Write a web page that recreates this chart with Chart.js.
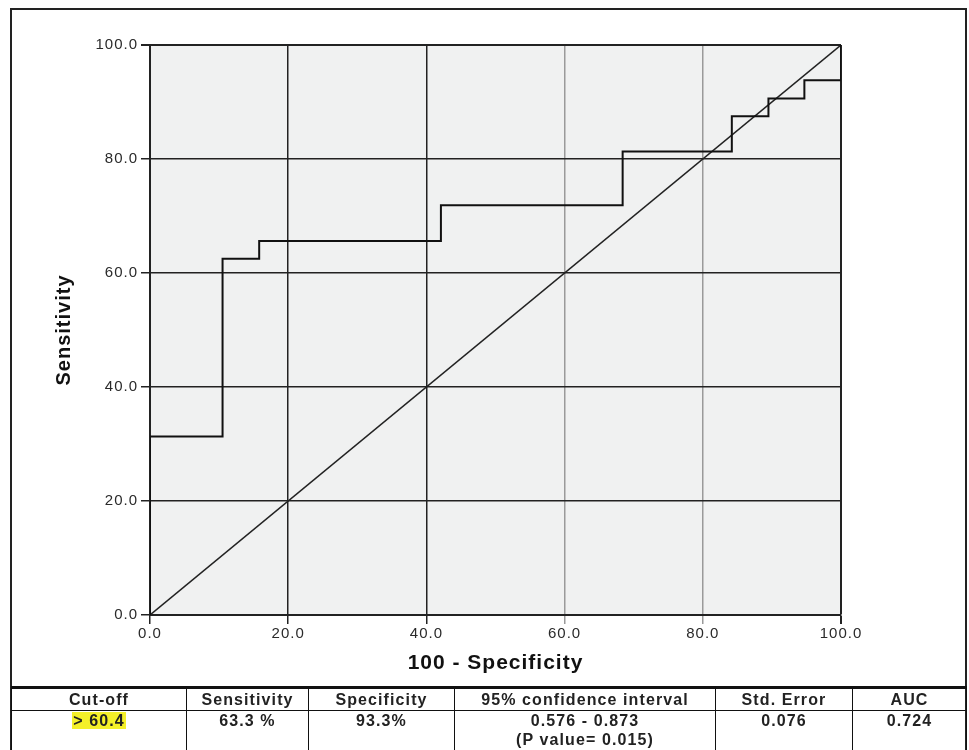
<!DOCTYPE html>
<html>
<head>
<meta charset="utf-8">
<title>ROC curve</title>
<script src="https://cdn.jsdelivr.net/npm/chart.js@4.4.1/dist/chart.umd.min.js"></script>
<style>
  body { margin: 0; background: #fff; }
  #wrap { position: relative; width: 969px; height: 750px; overflow: hidden; background: #fff; }
  #rocChart { position: absolute; left: 0; top: 0; }
  #frame {
    position: absolute; left: 10px; top: 8px; width: 957px; height: 760px;
    border: 2px solid #222; box-sizing: border-box;
  }
  #stats {
    position: absolute; left: 11px; top: 686px; width: 955px;
    border-collapse: collapse; table-layout: fixed;
    font-family: "Liberation Sans", Arial, sans-serif;
    font-weight: bold; font-size: 16px; letter-spacing: 1.1px; color: #222;
  }
  #stats th, #stats td {
    border: 1.5px solid #111; text-align: center; padding: 0; line-height: 19px;
  }
  #stats tr:first-child th { border-top: 3px solid #111; height: 21px; }
  #stats td { vertical-align: top; height: 44px; }
  .hl { background: #f4f02a; padding: 0 1px; }
</style>
</head>
<body>
<div id="wrap">
  <canvas id="rocChart" width="969" height="750"></canvas>
  <div id="frame"></div>
  <table id="stats">
    <colgroup>
      <col style="width:175px"><col style="width:122px"><col style="width:146px">
      <col style="width:261px"><col style="width:137px"><col style="width:114px">
    </colgroup>
    <tr>
      <th>Cut-off</th><th>Sensitivity</th><th>Specificity</th>
      <th>95% confidence interval</th><th>Std. Error</th><th>AUC</th>
    </tr>
    <tr>
      <td><span class="hl">&gt; 60.4</span></td><td>63.3 %</td><td>93.3%</td>
      <td>0.576 - 0.873<br>(P value= 0.015)</td><td>0.076</td><td>0.724</td>
    </tr>
  </table>
</div>

<script>
// ROC operating points (100 - specificity, sensitivity)
const rocFpr = [0, 0, 10.5, 15.8, 42.1, 68.4, 84.2, 89.5, 94.7, 100];
const rocSens = [0, 31.3, 62.5, 65.6, 71.9, 81.3, 87.5, 90.6, 93.8, 100];

// reference (chance) line
const refX = [0, 100];
const refY = [0, 100];

const tickValues = [0, 20, 40, 60, 80, 100];
const lightGridAt = [60, 80];

const tickFont = { family: '"Liberation Sans", Arial, sans-serif', size: 15 };

// grey plot background + wider letter spacing like the original
const plotBackground = {
  id: 'plotBackground',
  beforeDraw(chart) {
    const { ctx, chartArea } = chart;
    ctx.letterSpacing = '1px';
    ctx.save();
    ctx.fillStyle = '#f0f1f1';
    ctx.fillRect(chartArea.left, chartArea.top, chartArea.right - chartArea.left, chartArea.bottom - chartArea.top);
    ctx.restore();
  }
};

function gridColor(ctx) {
  if (!ctx.tick) return '#222';
  return lightGridAt.includes(ctx.tick.value) ? '#9a9a9a' : '#222';
}

function gridWidth(ctx) {
  if (ctx.tick && ctx.tick.value === 100) return 2;
  return 1.5;
}

function fixedTicks(scale) {
  scale.ticks = tickValues.map(v => ({ value: v }));
}

const ctx = document.getElementById('rocChart').getContext('2d');

new Chart(ctx, {
  type: 'line',
  data: {
    datasets: [
      {
        label: 'ROC',
        data: rocFpr.map((x, i) => ({ x: x, y: rocSens[i] })),
        stepped: true,
        borderColor: '#111',
        borderWidth: 2,
        pointRadius: 0,
        fill: false
      },
      {
        label: 'Reference',
        data: refX.map((x, i) => ({ x: x, y: refY[i] })),
        borderColor: '#222',
        borderWidth: 1.5,
        pointRadius: 0,
        fill: false
      }
    ]
  },
  options: {
    responsive: false,
    animation: false,
    layout: { padding: { left: 50, top: 45, right: 128, bottom: 65 } },
    plugins: {
      legend: { display: false },
      tooltip: { enabled: false }
    },
    scales: {
      x: {
        type: 'linear',
        min: 0,
        max: 100,
        afterBuildTicks: fixedTicks,
        afterFit(scale) { scale.height = 70; },
        border: { display: true, color: '#222', width: 2 },
        grid: { color: gridColor, lineWidth: gridWidth, tickLength: 9 },
        ticks: {
          padding: 1,
          color: '#2a2a2a',
          font: tickFont,
          maxRotation: 0,
          callback: v => v.toFixed(1)
        },
        title: {
          display: true,
          text: '100 - Specificity',
          color: '#111',
          font: { family: '"Liberation Sans", Arial, sans-serif', size: 21, weight: 'bold' },
          padding: { top: 0, bottom: 9 }
        }
      },
      y: {
        type: 'linear',
        min: 0,
        max: 100,
        afterBuildTicks: fixedTicks,
        afterFit(scale) { scale.width = 100; },
        border: { display: true, color: '#222', width: 2 },
        grid: { color: '#222', lineWidth: gridWidth, tickLength: 9 },
        ticks: {
          padding: 3,
          color: '#2a2a2a',
          font: tickFont,
          callback: v => v.toFixed(1)
        },
        title: {
          display: true,
          text: 'Sensitivity',
          color: '#111',
          font: { family: '"Liberation Sans", Arial, sans-serif', size: 20, weight: 'bold' },
          padding: { top: 2, bottom: 4 }
        }
      }
    }
  },
  plugins: [plotBackground]
});
</script>
</body>
</html>
